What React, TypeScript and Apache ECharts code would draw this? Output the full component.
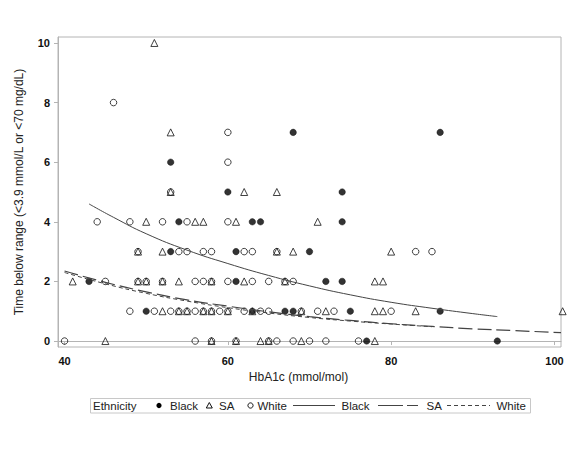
import * as echarts from "echarts";
import React, { useEffect, useRef } from "react";

// scatter points [HbA1c, time below range]
const blackPoints: number[][] = [
  [43, 2], [50, 1], [53, 3], [53, 6], [54, 4], [60, 5], [61, 3], [61, 2],
  [63, 4], [64, 4], [63, 1], [67, 1], [68, 1], [68, 7], [70, 3], [72, 2],
  [74, 2], [74, 4], [74, 5], [75, 1], [77, 0], [86, 7], [86, 1], [93, 0],
];
const saPoints: number[][] = [
  [41, 2], [45, 0], [49, 3], [49, 2], [50, 2], [50, 4], [51, 10], [52, 3],
  [52, 2], [52, 1], [53, 7], [53, 5], [54, 2], [54, 1], [55, 1], [56, 4],
  [57, 4], [57, 1], [58, 2], [58, 1], [58, 0], [60, 1], [61, 4], [61, 0],
  [62, 5], [62, 2], [63, 1], [64, 0], [65, 0], [66, 5], [66, 3], [67, 2],
  [68, 3], [69, 1], [69, 0], [71, 4], [72, 1], [78, 2], [79, 2], [78, 1],
  [79, 1], [78, 0], [80, 3], [83, 1], [101, 1],
];
const whitePoints: number[][] = [
  [40, 0], [44, 4], [45, 2], [46, 8], [48, 4], [48, 1], [49, 3], [49, 2],
  [50, 2], [51, 1], [52, 4], [52, 2], [53, 5], [53, 1], [54, 3], [54, 1],
  [55, 4], [55, 3], [55, 1], [56, 2], [56, 1], [56, 0], [57, 3], [57, 2],
  [57, 1], [58, 3], [58, 2], [58, 1], [58, 0], [59, 1], [60, 7], [60, 6],
  [60, 4], [60, 2], [60, 1], [61, 0], [62, 3], [62, 1], [63, 3], [63, 2],
  [64, 1], [65, 2], [65, 1], [65, 0], [66, 3], [66, 0], [67, 2], [68, 2],
  [68, 0], [69, 1], [70, 0], [71, 1], [72, 0], [73, 1], [76, 0], [80, 1],
  [83, 3], [85, 3],
];

// fitted curves
const blackFitX = [43, 46, 50, 55, 60, 65, 70, 75, 80, 85, 90, 93];
const blackFitY = [4.6, 4.15, 3.6, 3.05, 2.6, 2.2, 1.85, 1.55, 1.3, 1.1, 0.92, 0.82];
const saFitX = [40, 45, 50, 55, 60, 65, 70, 75, 80, 85, 90, 95, 100.8];
const saFitY = [2.35, 1.97, 1.65, 1.38, 1.17, 0.98, 0.82, 0.69, 0.58, 0.49, 0.41, 0.35, 0.28];
const whiteFitX = [40, 45, 50, 55, 60, 65, 70, 75, 80, 85];
const whiteFitY = [2.3, 1.92, 1.6, 1.34, 1.12, 0.94, 0.79, 0.67, 0.57, 0.48];

const xTicks = [40, 60, 80, 100];
const yTicks = [0, 2, 4, 6, 8, 10];

const FONT = "'Liberation Sans', Arial, sans-serif";
const INK = "#111";
const LINE = "#444";

const zip = (xs: number[], ys: number[]) => xs.map((x, i) => [x, ys[i]]);

const legendText = (x: number, text: string) => ({
  type: "text",
  x,
  y: 405.5,
  style: { text, fill: "#222", font: `11.5px ${FONT}`, verticalAlign: "middle" },
});

const App: React.FC = () => {
  const chartRef = useRef<HTMLDivElement | null>(null);

  useEffect(() => {
    const chart = echarts.init(chartRef.current, null, { renderer: "svg" });
    const axisColor = "#b4b4b4";

    chart.setOption({
      animation: false,
      backgroundColor: "#fff",
      grid: {
        left: 58,
        right: 6,
        top: 37,
        bottom: 122,
        show: true,
        borderColor: axisColor,
        borderWidth: 1,
      },
      xAxis: {
        type: "value",
        min: 39.2,
        max: 100.8,
        name: "HbA1c (mmol/mol)",
        nameLocation: "middle",
        nameGap: 24,
        nameTextStyle: { fontFamily: FONT, fontSize: 12, color: "#222", padding: [0, 22, 0, 0] },
        axisLine: { show: true, lineStyle: { color: axisColor } },
        axisTick: { show: true, length: 4, customValues: xTicks, lineStyle: { color: axisColor } },
        axisLabel: {
          customValues: xTicks,
          margin: 8,
          fontFamily: FONT,
          fontSize: 11,
          fontWeight: "bold",
          color: INK,
        },
        splitLine: { show: false },
      },
      yAxis: {
        type: "value",
        min: -0.2,
        max: 10.2,
        name: "Time below range (<3.9 mmol/L or <70 mg/dL)",
        nameLocation: "middle",
        nameGap: 33,
        nameTextStyle: { fontFamily: FONT, fontSize: 12, color: "#222" },
        axisLine: { show: true, lineStyle: { color: axisColor } },
        axisTick: { show: true, length: 4, customValues: yTicks, lineStyle: { color: axisColor } },
        axisLabel: {
          customValues: yTicks,
          margin: 8,
          fontFamily: FONT,
          fontSize: 11,
          fontWeight: "bold",
          color: INK,
        },
        splitLine: { show: false },
      },
      series: [
        {
          name: "Black fit",
          type: "line",
          data: zip(blackFitX, blackFitY),
          smooth: true,
          showSymbol: false,
          lineStyle: { color: LINE, width: 1 },
        },
        {
          name: "SA fit",
          type: "line",
          data: zip(saFitX, saFitY),
          smooth: true,
          showSymbol: false,
          lineStyle: { color: LINE, width: 1.2, type: [14, 5] },
        },
        {
          name: "White fit",
          type: "line",
          data: zip(whiteFitX, whiteFitY),
          smooth: true,
          showSymbol: false,
          lineStyle: { color: LINE, width: 1, type: [4, 3] },
        },
        {
          name: "Black",
          type: "scatter",
          data: blackPoints,
          symbol: "circle",
          symbolSize: 6.5,
          clip: false,
          itemStyle: { color: "#000", borderColor: "#000", borderWidth: 0.5 },
        },
        {
          name: "SA",
          type: "scatter",
          data: saPoints,
          symbol: "triangle",
          symbolSize: 7,
          clip: false,
          itemStyle: { color: "rgba(0,0,0,0)", borderColor: "#111", borderWidth: 1 },
        },
        {
          name: "White",
          type: "scatter",
          data: whitePoints,
          symbol: "circle",
          symbolSize: 6.5,
          clip: false,
          itemStyle: { color: "rgba(0,0,0,0)", borderColor: "#111", borderWidth: 1 },
        },
      ],
      graphic: [
        {
          type: "rect",
          shape: { x: 90.5, y: 398.5, width: 440, height: 14.5 },
          style: { fill: "#fff", stroke: "#c8c8c8", lineWidth: 1 },
        },
        legendText(93, "Ethnicity"),
        { type: "circle", shape: { cx: 159, cy: 405.5, r: 2.6 }, style: { fill: "#000" } },
        legendText(170, "Black"),
        {
          type: "polygon",
          shape: { points: [[209.3, 402.5], [206.3, 408], [212.3, 408]] },
          style: { fill: "none", stroke: "#111", lineWidth: 1 },
        },
        legendText(219, "SA"),
        { type: "circle", shape: { cx: 250.5, cy: 405.5, r: 2.6 }, style: { fill: "none", stroke: "#111", lineWidth: 1 } },
        legendText(257.5, "White"),
        { type: "line", shape: { x1: 293, y1: 405.5, x2: 335, y2: 405.5 }, style: { stroke: LINE, lineWidth: 1 } },
        legendText(341.5, "Black"),
        { type: "line", shape: { x1: 378, y1: 405.5, x2: 403, y2: 405.5 }, style: { stroke: LINE, lineWidth: 1 } },
        { type: "line", shape: { x1: 407, y1: 405.5, x2: 418, y2: 405.5 }, style: { stroke: LINE, lineWidth: 1 } },
        legendText(426.5, "SA"),
        {
          type: "line",
          shape: { x1: 447, y1: 405.5, x2: 490, y2: 405.5 },
          style: { stroke: LINE, lineWidth: 1, lineDash: [4, 3] },
        },
        legendText(496.5, "White"),
      ],
    });

    return () => {
      chart.dispose();
    };
  }, []);

  return (
    <div
      ref={chartRef}
      style={{ position: "fixed", left: 0, top: 0, width: "567px", height: "469px" }}
    ></div>
  );
};

export default App;
